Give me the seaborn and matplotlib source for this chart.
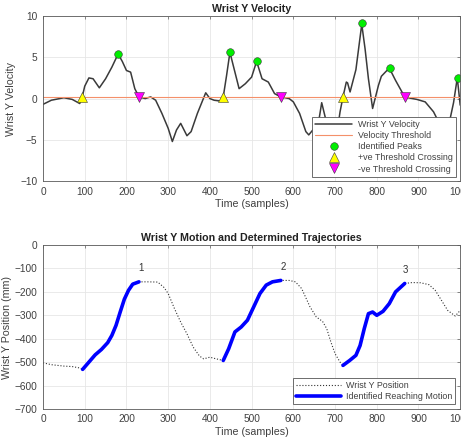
import numpy as np
import pandas as pd
import matplotlib
matplotlib.use("Agg")
import matplotlib.pyplot as plt
import seaborn as sns

sns.set_style("white")
plt.rcParams['font.family'] = ['Liberation Sans', 'DejaVu Sans']

# ---- Velocity data ----
vel_t = [0, 20, 50, 70, 88, 94, 100, 110, 120, 135, 150, 165, 180, 190, 200, 210, 220,
         230, 245, 258, 270, 285, 300, 310, 320, 330, 345, 355, 370, 390, 400, 410, 425,
         432, 440, 448, 460, 470, 485, 500, 512, 525, 540, 555, 570, 590, 600, 615, 630,
         637, 650, 660, 668, 680, 695, 705, 712, 719, 727, 730, 736, 750, 764, 772, 780,
         790, 804, 811, 830, 845, 867, 880, 896, 916, 936, 950, 962, 976, 984, 993, 1000]
vel = [-0.7, -0.2, 0.1, -0.1, -0.6, 0.2, 1.5, 2.5, 2.4, 1.3, 2.4, 3.8, 5.4, 4.5, 3.4, 3.2, 1.2,
       0.2, 0.0, 0.2, -0.2, -1.8, -3.6, -5.2, -3.8, -3.0, -4.5, -4.0, -1.8, 0.7, 0.0, -0.2, -0.3,
       0.2, 2.8, 5.6, 3.2, 1.2, 1.8, 2.6, 4.5, 2.4, 2.0, 0.6, 0.2, 0.0, -0.4, -1.8, -4.0,
       -4.4, -3.6, -3.0, -0.5, -3.0, -5.5, -4.0, -1.6, 0.2, 2.0, 1.9, 0.8, 3.5, 9.0, 6.0, 2.4,
       -1.2, 1.6, 2.7, 3.7, 2.2, 0.2, 0.05, -0.1, -0.4, -1.6, -3.0, -3.6, -2.4, -0.5, 2.5, -0.8]
threshold = 0.2
peak_t = [180, 448, 512, 765, 832, 994]
peak_v = [5.4, 5.6, 4.5, 9.1, 3.7, 2.5]
pos_cross_t = [94, 432, 719]
neg_cross_t = [230, 570, 867]

# ---- Position data ----
pos_t = [0, 20, 50, 70, 85, 95, 110, 125, 140, 155, 165, 175, 185, 195, 205, 215, 230,
         250, 275, 290, 300, 315, 330, 345, 360, 375, 385, 400, 415, 432, 445, 460, 475,
         490, 505, 520, 535, 550, 570, 590, 605, 620, 640, 655, 670, 680, 690, 700, 712,
         719, 735, 750, 760, 770, 780, 790, 800, 815, 830, 845, 867, 885, 905, 925, 940,
         955, 970, 988, 1000]
pos = [-503, -511, -517, -519, -524, -531, -500, -469, -446, -417, -386, -343, -286, -231, -193, -167, -157,
       -157, -158, -181, -207, -271, -329, -379, -436, -474, -486, -479, -486, -493, -443, -371, -350,
       -321, -264, -207, -171, -157, -151, -151, -157, -186, -264, -307, -326, -357, -414, -464, -500,
       -514, -493, -471, -429, -357, -293, -286, -300, -283, -250, -200, -164, -160, -161, -169, -193,
       -236, -279, -303, -279]
reach_start = [95, 432, 719]
reach_end = [230, 570, 867]
reach_labels = ["1", "2", "3"]
label_t = [236, 576, 868]
label_y = [-121, -117, -126]

x_ticks = list(range(0, 1001, 100))
vel_ticks = [-10, -5, 0, 5, 10]
pos_ticks = list(range(-700, 1, 100))

fig = plt.figure(figsize=(4.61, 4.44), dpi=100)
ax1 = fig.add_axes([0.0933, 0.592, 0.905, 0.372])
ax2 = fig.add_axes([0.0933, 0.079, 0.905, 0.369])

grid_c = '#e6e6e6'
spine_c = '#5a5a5a'
txt_c = '#404040'

def style(ax):
    ax.grid(True, color=grid_c, linewidth=0.6)
    ax.set_axisbelow(True)
    for s in ax.spines.values():
        s.set_color(spine_c)
        s.set_linewidth(0.6)
    ax.tick_params(direction='in', length=2.5, width=0.5, color=spine_c,
                   labelsize=7.3, labelcolor=txt_c, top=True, right=True, pad=4)

vdf = pd.DataFrame({'t': vel_t, 'v': vel})
sns.lineplot(data=vdf, x='t', y='v', ax=ax1, color='#3a3a3a', linewidth=1.1,
             sort=False, estimator=None, label='Wrist Y Velocity')
thr = pd.DataFrame({'t': [0, 1000], 'v': [threshold, threshold]})
sns.lineplot(data=thr, x='t', y='v', ax=ax1, color='#F4906A', linewidth=0.8,
             estimator=None, label='Velocity Threshold')
ax1.plot(peak_t, peak_v, 'o', color='#00EE00', markeredgecolor='#3a3a3a',
         markeredgewidth=0.4, markersize=5.5, linestyle='none', label='Identified Peaks')
ax1.plot(pos_cross_t, [threshold] * len(pos_cross_t), '^', color='#FFFF00',
         markeredgecolor='#3a3a3a', markeredgewidth=0.4, markersize=6.5, linestyle='none',
         label='+ve Threshold Crossing')
ax1.plot(neg_cross_t, [threshold] * len(neg_cross_t), 'v', color='#FF00FF',
         markeredgecolor='#3a3a3a', markeredgewidth=0.4, markersize=6.5, linestyle='none',
         label='-ve Threshold Crossing')
ax1.set_xlim(0, 1000)
ax1.set_ylim(-10, 10)
ax1.set_xticks(x_ticks)
ax1.set_yticks(vel_ticks)
ax1.set_xlabel('Time (samples)', fontsize=7.7, color=txt_c, labelpad=2)
ax1.set_ylabel('Wrist Y Velocity', fontsize=7.7, color=txt_c, labelpad=3)
ax1.set_title('Wrist Y Velocity', fontsize=7.7, fontweight='bold', color='#222222', pad=3)
style(ax1)
leg1 = ax1.legend(loc='lower right', fontsize=6.4, frameon=True, fancybox=False,
                  edgecolor='#555555', framealpha=1, handlelength=4.2, borderpad=0.35,
                  labelspacing=0.25, handletextpad=0.6, borderaxespad=0.5)
leg1.get_frame().set_linewidth(0.6)
for t in leg1.get_texts():
    t.set_color(txt_c)

pdf = pd.DataFrame({'t': pos_t, 'p': pos})
sns.lineplot(data=pdf, x='t', y='p', ax=ax2, color='#333333', linewidth=0.8,
             linestyle=':', sort=False, estimator=None, label='Wrist Y Position')
for i, (s, e) in enumerate(zip(reach_start, reach_end)):
    seg = pdf[(pdf['t'] >= s) & (pdf['t'] <= e)]
    sns.lineplot(data=seg, x='t', y='p', ax=ax2, color='#0000FF', linewidth=2.6,
                 sort=False, estimator=None,
                 label='Identified Reaching Motion' if i == 0 else None)
for lab, lt, ly in zip(reach_labels, label_t, label_y):
    ax2.text(lt, ly, lab, fontsize=7, color='#333333', ha='center', va='bottom')
ax2.set_xlim(0, 1000)
ax2.set_ylim(-700, 0)
ax2.set_xticks(x_ticks)
ax2.set_yticks(pos_ticks)
ax2.set_xlabel('Time (samples)', fontsize=7.7, color=txt_c, labelpad=2)
ax2.set_ylabel('Wrist Y Position (mm)', fontsize=7.7, color=txt_c, labelpad=2)
ax2.set_title('Wrist Y Motion and Determined Trajectories', fontsize=7.7,
              fontweight='bold', color='#222222', pad=3)
style(ax2)
leg2 = ax2.legend(loc='lower right', fontsize=6.4, frameon=True, fancybox=False,
                  edgecolor='#555555', framealpha=1, handlelength=5.0, borderpad=0.3,
                  labelspacing=0.25, handletextpad=0.6, borderaxespad=0.6)
leg2.get_frame().set_linewidth(0.6)
for t in leg2.get_texts():
    t.set_color(txt_c)

fig.savefig('out.png', dpi=100, facecolor='white')
